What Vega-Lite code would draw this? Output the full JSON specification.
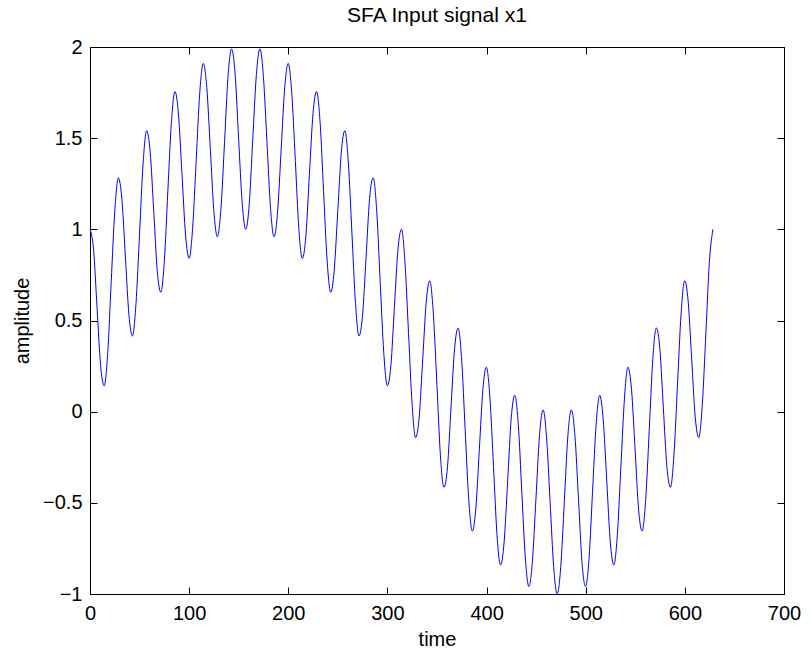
{
  "$schema": "https://vega.github.io/schema/vega-lite/v6.json",
  "width": 694,
  "height": 547,
  "autosize": "none",
  "padding": {"left": 90, "top": 47, "right": 26, "bottom": 58},
  "background": "white",
  "title": {"text": "SFA Input signal x1", "font": "Liberation Sans", "fontSize": 21, "fontWeight": "normal", "color": "black", "anchor": "middle", "offset": 11},
  "config": {
    "view": {"stroke": "black", "strokeWidth": 1},
    "axis": {"grid": false, "domainColor": "black", "tickColor": "black", "labelColor": "black", "titleColor": "black", "labelFont": "Liberation Sans", "titleFont": "Liberation Sans", "labelFontSize": 20, "titleFontSize": 20, "titleFontWeight": "normal", "tickSize": -7, "labelOverlap": false, "labelBound": false, "labelFlush": false}
  },
  "data": {"values": [
    {"t":0,"v":1.000},{"t":3.6,"v":0.889},{"t":7.1,"v":0.571},{"t":10.7,"v":0.253},{"t":14.3,"v":0.142},{"t":17.9,"v":0.324},{"t":21.4,"v":0.713},{"t":25.0,"v":1.101},
    {"t":28.6,"v":1.282},{"t":32.1,"v":1.170},{"t":35.7,"v":0.849},{"t":39.3,"v":0.529},{"t":42.8,"v":0.415},{"t":46.4,"v":0.594},{"t":50.0,"v":0.979},{"t":53.6,"v":1.364},
    {"t":57.1,"v":1.541},{"t":60.7,"v":1.424},{"t":64.3,"v":1.099},{"t":67.8,"v":0.774},{"t":71.4,"v":0.655},{"t":75.0,"v":0.827},{"t":78.5,"v":1.207},{"t":82.1,"v":1.586},
    {"t":85.7,"v":1.756},{"t":89.2,"v":1.632},{"t":92.8,"v":1.301},{"t":96.4,"v":0.968},{"t":100.0,"v":0.841},{"t":103.5,"v":1.006},{"t":107.1,"v":1.378},{"t":110.7,"v":1.748},
    {"t":114.2,"v":1.910},{"t":117.8,"v":1.778},{"t":121.4,"v":1.437},{"t":125.0,"v":1.095},{"t":128.5,"v":0.959},{"t":132.1,"v":1.115},{"t":135.7,"v":1.477},{"t":139.2,"v":1.838},
    {"t":142.8,"v":1.990},{"t":146.4,"v":1.848},{"t":149.9,"v":1.497},{"t":153.5,"v":1.145},{"t":157.1,"v":1.000},{"t":160.7,"v":1.145},{"t":164.2,"v":1.497},{"t":167.8,"v":1.848},
    {"t":171.4,"v":1.990},{"t":174.9,"v":1.838},{"t":178.5,"v":1.477},{"t":182.1,"v":1.115},{"t":185.6,"v":0.959},{"t":189.2,"v":1.095},{"t":192.8,"v":1.437},{"t":196.4,"v":1.778},
    {"t":199.9,"v":1.910},{"t":203.5,"v":1.748},{"t":207.1,"v":1.378},{"t":210.6,"v":1.006},{"t":214.2,"v":0.841},{"t":217.8,"v":0.968},{"t":221.3,"v":1.301},{"t":224.9,"v":1.632},
    {"t":228.5,"v":1.756},{"t":232.1,"v":1.586},{"t":235.6,"v":1.207},{"t":239.2,"v":0.827},{"t":242.8,"v":0.655},{"t":246.3,"v":0.774},{"t":249.9,"v":1.099},{"t":253.5,"v":1.424},
    {"t":257.0,"v":1.541},{"t":260.6,"v":1.364},{"t":264.2,"v":0.979},{"t":267.8,"v":0.594},{"t":271.3,"v":0.415},{"t":274.9,"v":0.529},{"t":278.5,"v":0.849},{"t":282.0,"v":1.170},
    {"t":285.6,"v":1.282},{"t":289.2,"v":1.101},{"t":292.7,"v":0.713},{"t":296.3,"v":0.324},{"t":299.9,"v":0.142},{"t":303.5,"v":0.253},{"t":307.0,"v":0.571},{"t":310.6,"v":0.889},
    {"t":314.2,"v":1.000},{"t":317.7,"v":0.818},{"t":321.3,"v":0.429},{"t":324.9,"v":0.039},{"t":328.4,"v":-0.142},{"t":332.0,"v":-0.032},{"t":335.6,"v":0.287},{"t":339.2,"v":0.607},
    {"t":342.7,"v":0.718},{"t":346.3,"v":0.538},{"t":349.9,"v":0.151},{"t":353.4,"v":-0.237},{"t":357.0,"v":-0.415},{"t":360.6,"v":-0.302},{"t":364.1,"v":0.021},{"t":367.7,"v":0.344},
    {"t":371.3,"v":0.459},{"t":374.9,"v":0.284},{"t":378.4,"v":-0.099},{"t":382.0,"v":-0.481},{"t":385.6,"v":-0.655},{"t":389.1,"v":-0.535},{"t":392.7,"v":-0.207},{"t":396.3,"v":0.122},
    {"t":399.8,"v":0.244},{"t":403.4,"v":0.075},{"t":407.0,"v":-0.301},{"t":410.5,"v":-0.675},{"t":414.1,"v":-0.841},{"t":417.7,"v":-0.714},{"t":421.3,"v":-0.378},{"t":424.8,"v":-0.040},
    {"t":428.4,"v":0.090},{"t":432.0,"v":-0.070},{"t":435.5,"v":-0.437},{"t":439.1,"v":-0.803},{"t":442.7,"v":-0.959},{"t":446.2,"v":-0.823},{"t":449.8,"v":-0.477},{"t":453.4,"v":-0.130},
    {"t":457.0,"v":0.010},{"t":460.5,"v":-0.140},{"t":464.1,"v":-0.497},{"t":467.7,"v":-0.853},{"t":471.2,"v":-1.000},{"t":474.8,"v":-0.853},{"t":478.4,"v":-0.497},{"t":481.9,"v":-0.140},
    {"t":485.5,"v":0.010},{"t":489.1,"v":-0.130},{"t":492.7,"v":-0.477},{"t":496.2,"v":-0.823},{"t":499.8,"v":-0.959},{"t":503.4,"v":-0.803},{"t":506.9,"v":-0.437},{"t":510.5,"v":-0.070},
    {"t":514.1,"v":0.090},{"t":517.6,"v":-0.040},{"t":521.2,"v":-0.378},{"t":524.8,"v":-0.714},{"t":528.4,"v":-0.841},{"t":531.9,"v":-0.675},{"t":535.5,"v":-0.301},{"t":539.1,"v":0.075},
    {"t":542.6,"v":0.244},{"t":546.2,"v":0.122},{"t":549.8,"v":-0.207},{"t":553.3,"v":-0.535},{"t":556.9,"v":-0.655},{"t":560.5,"v":-0.481},{"t":564.1,"v":-0.099},{"t":567.6,"v":0.284},
    {"t":571.2,"v":0.459},{"t":574.8,"v":0.344},{"t":578.3,"v":0.021},{"t":581.9,"v":-0.302},{"t":585.5,"v":-0.415},{"t":589.0,"v":-0.237},{"t":592.6,"v":0.151},{"t":596.2,"v":0.538},
    {"t":599.8,"v":0.718},{"t":603.3,"v":0.607},{"t":606.9,"v":0.287},{"t":610.5,"v":-0.032},{"t":614.0,"v":-0.142},{"t":617.6,"v":0.039},{"t":621.2,"v":0.429},{"t":624.7,"v":0.818},
    {"t":628.3,"v":1.000}
  ]},
  "layer": [
    {
      "mark": {"type": "line", "color": "#0000ff", "strokeWidth": 1, "interpolate": "monotone"},
      "encoding": {
        "x": {"field": "t", "type": "quantitative", "scale": {"domain": [0, 700], "nice": false, "zero": false}, "axis": {"title": "time", "values": [0,100,200,300,400,500,600,700], "labelPadding": 16.5, "titlePadding": 6}},
        "y": {"field": "v", "type": "quantitative", "scale": {"domain": [-1, 2], "nice": false, "zero": false}, "axis": {"title": "amplitude", "values": [-1,-0.5,0,0.5,1,1.5,2], "format": ".1~f", "labelPadding": 15, "titlePadding": 10}}
      }
    },
    {
      "mark": {"type": "line", "opacity": 0},
      "encoding": {
        "x": {"field": "t", "type": "quantitative", "axis": {"orient": "top", "title": null, "labels": false, "values": [0,100,200,300,400,500,600,700]}},
        "y": {"field": "v", "type": "quantitative", "axis": {"orient": "right", "title": null, "labels": false, "values": [-1,-0.5,0,0.5,1,1.5,2]}}
      }
    }
  ],
  "resolve": {"axis": {"x": "independent", "y": "independent"}}
}
